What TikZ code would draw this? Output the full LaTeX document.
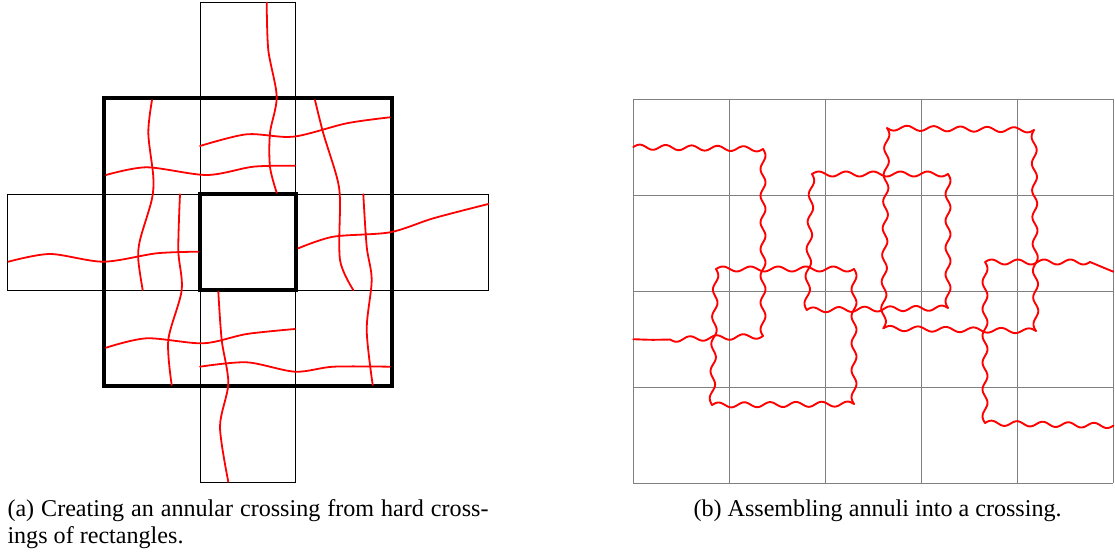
\documentclass[tikz,border=0pt]{standalone}
\usepackage{fontspec}
\setmainfont{Liberation Serif}
\tikzset{
  thinbox/.style={draw=black, line width=0.9pt},
  thickbox/.style={draw=black, line width=4pt},
  gridline/.style={draw=gray, line width=0.9pt},
  smoothcurve/.style={draw=red, line width=1.8pt, line join=round, line cap=round},
  wavy/.style={draw=red, line width=1.9pt, line join=round, line cap=round},
  captext/.style={anchor=base west, inner sep=0pt, font=\fontsize{24.1}{27}\selectfont}
}
% wavy segment: x1 y1 x2 y2 number-of-half-waves
\newcommand\wseg[5]{%
  \pgfmathsetmacro\wdx{#3-(#1)}%
  \pgfmathsetmacro\wdy{#4-(#2)}%
  \pgfmathsetmacro\wl{veclen(\wdx,\wdy)}%
  \pgfmathsetmacro\wnx{-2.5*\wdy/\wl}%
  \pgfmathsetmacro\wny{2.5*\wdx/\wl}%
  \pgfmathtruncatemacro\wsmp{#5*8+1}%
  \draw[wavy] plot[domain=0:1, samples=\wsmp, smooth]
    ({#1+\wdx*\x-\wnx*sin(180*#5*\x)}, {#2+\wdy*\x-\wny*sin(180*#5*\x)});
}
\begin{document}
\begin{tikzpicture}[x=1pt, y=-1pt]
\useasboundingbox (0,0) rectangle (1115,554);

% ---------- left figure ----------
\draw[thinbox] (200,2.5) rectangle (295.7,482.3);
\draw[thinbox] (7.8,194.3) rectangle (488.3,290);
\draw[thickbox] (103.5,98.3) rectangle (391.7,385.7);
\draw[thickbox] (200,194.3) rectangle (295.7,290);

\draw[smoothcurve] plot[smooth] coordinates {(266.7,2.7) (268.3,50) (276.7,96.7) (270,133) (270,167) (276.7,192.7)};
\draw[smoothcurve] plot[smooth] coordinates {(200,146) (246.7,134.3) (293.3,136.7) (346.7,123.3) (390,117.3)};
\draw[smoothcurve] plot[smooth] coordinates {(106,175) (146.7,167.3) (206.7,175) (253.3,166.7) (295,165.7)};
\draw[smoothcurve] plot[smooth] coordinates {(152,100) (148.3,133) (153.3,176.7) (151.7,200) (140,240) (138.3,260) (142.7,290)};
\draw[smoothcurve] plot[smooth] coordinates {(180,194.3) (178.3,250) (181.7,290) (168.3,340) (171.7,385)};
\draw[smoothcurve] plot[smooth] coordinates {(315,100) (323.3,133.3) (336.7,176.7) (340,200) (340,260) (353.3,290)};
\draw[smoothcurve] plot[smooth] coordinates {(363.3,194.3) (366.7,246.7) (371.7,280) (366.7,330) (372.7,385)};
\draw[smoothcurve] plot[smooth] coordinates {(298.3,248.3) (333.3,236.7) (390,232.3) (433.3,218.3) (488.3,204)};
\draw[smoothcurve] plot[smooth] coordinates {(8.3,261.7) (50,254) (103.3,261.7) (156.7,253.3) (198.3,251.7)};
\draw[smoothcurve] plot[smooth] coordinates {(218.3,291.7) (221.7,340) (228.3,383.3) (220,426.7) (228.3,481.7)};
\draw[smoothcurve] plot[smooth] coordinates {(106,347.7) (146.7,338.3) (203.3,343.3) (246.7,334) (295,329)};
\draw[smoothcurve] plot[smooth] coordinates {(200,366.7) (246.7,362.3) (295,371.7) (333.3,366.7) (390,366.7)};

% ---------- right figure ----------
\foreach \i in {0,...,5} {
  \draw[gridline] (633.3+96*\i,99.3) -- (633.3+96*\i,483.3);
}
\foreach \j in {0,...,4} {
  \draw[gridline] (633.3,99.3+96*\j) -- (1113.3,99.3+96*\j);
}

% path A
\wseg{633.3}{147}{763}{149}{10}
\wseg{763}{149}{763}{336}{14}
\wseg{763}{336}{670}{339.5}{7}
\draw[wavy, red] plot[smooth] coordinates {(670,339.5) (652,339.8) (633.3,339.2)};
% loop B
\wseg{712}{405}{854}{404}{11}
\wseg{854}{404}{854}{269}{10}
\wseg{854}{269}{716}{269}{10}
\wseg{716}{269}{712}{405}{10}
% loop C
\wseg{806.7}{310}{948}{308}{11}
\wseg{948}{308}{948}{174}{10}
\wseg{948}{174}{812}{174}{10}
\wseg{812}{174}{806.7}{310}{10}
% loop D
\wseg{883.3}{328.3}{1036}{331}{11}
\wseg{1036}{331}{1034}{130}{15}
\wseg{1034}{130}{887}{128}{11}
\wseg{887}{128}{883.3}{328.3}{15}
% path E
\wseg{1113.3}{425.7}{985}{423}{10}
\wseg{985}{423}{985}{262}{12}
\wseg{985}{262}{1090}{262}{8}
\draw[wavy] (1090,262) -- (1113.3,271.7);

% ---------- captions ----------
\node[captext] (capa1) at (7.3,516) {\makebox[481pt][s]{(a) Creating an annular crossing from hard cross-}};
\node[captext] (capa2) at (7.3,543.5) {ings of rectangles.};
\node[captext] (capb) at (693.3,516) {(b) Assembling annuli into a crossing.};
\end{tikzpicture}
\end{document}
